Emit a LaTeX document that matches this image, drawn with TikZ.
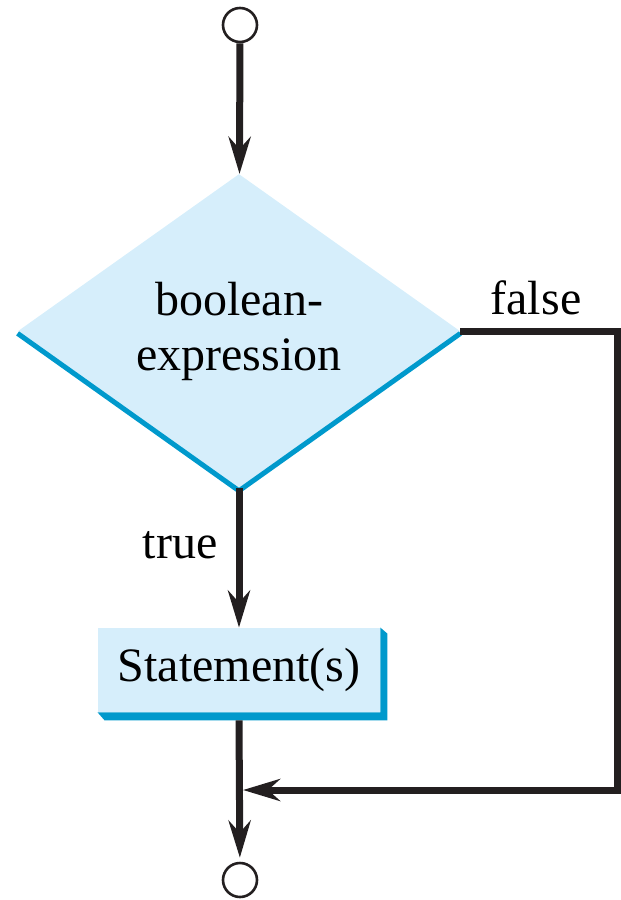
\documentclass[tikz,border=0pt]{standalone}
\usepackage{fontspec}
\setmainfont{Liberation Serif}
\usetikzlibrary{shapes.geometric,arrows.meta}
\definecolor{flowfill}{RGB}{214,238,251}
\definecolor{flowedge}{RGB}{0,153,204}
\definecolor{flowink}{RGB}{35,31,32}
\tikzset{
  flow/.style={draw=flowink, line width=3.5pt, -{Stealth[length=18.5pt,width=11pt,inset=6pt]}},
  terminal/.style={circle, draw=flowink, line width=1.3pt, fill=white, minimum size=17pt, inner sep=0pt},
  decision/.style={diamond, fill=flowfill, minimum width=221pt, minimum height=157pt, inner sep=0pt, align=center, font=\fontsize{24}{27.5}\selectfont},
  process/.style={rectangle, fill=flowfill, minimum width=141pt, minimum height=42pt, inner sep=0pt, font=\fontsize{24}{28}\selectfont},
  lbl/.style={inner sep=0pt, font=\fontsize{24}{28}\selectfont},
  edge3d/.style={fill=flowedge, draw=none}
}
\begin{document}
\begin{tikzpicture}[x=0.5pt,y=-0.5pt]
        \useasboundingbox (0,0) rectangle (621,900);

        % Start and end
        \node[terminal] (start) at (240,25) {};
        \node[terminal] (stop) at (240,880) {};

        % Test
        \node[decision] (cond) at (239,331) {boolean-\\expression};
        \draw[flowedge, line width=2.5pt] ([yshift=-1.2pt]cond.west) -- ([yshift=-1.2pt]cond.south) -- ([yshift=-1.2pt]cond.east);

        % Loop body
        \node[process] (body) at (239,670) {Statement(s)};
        \fill[edge3d] (body.north east) -- ++(7,6) -- ([shift={(7,8)}]body.south east)
              -- ([shift={(7,8)}]body.south west) -- (body.south west) -- (body.south east) -- cycle;

        % Labels
        \node[lbl] (truelbl) at (180,545) {true};
        \node[lbl] (falselbl) at (536,298) {false};

        % Flow
        \coordinate (corner) at (617,0);
        \coordinate (join) at (243,790);
        \draw[flow] (start) -- (cond);
        \draw[flow] (cond) -- (body);
        \draw[flow, shorten >=2pt] (body.south) ++(0,8) -- (stop);
        \draw[flow] (cond.east) -- (cond.east -| corner) |- (join);
    \end{tikzpicture}
\end{document}
